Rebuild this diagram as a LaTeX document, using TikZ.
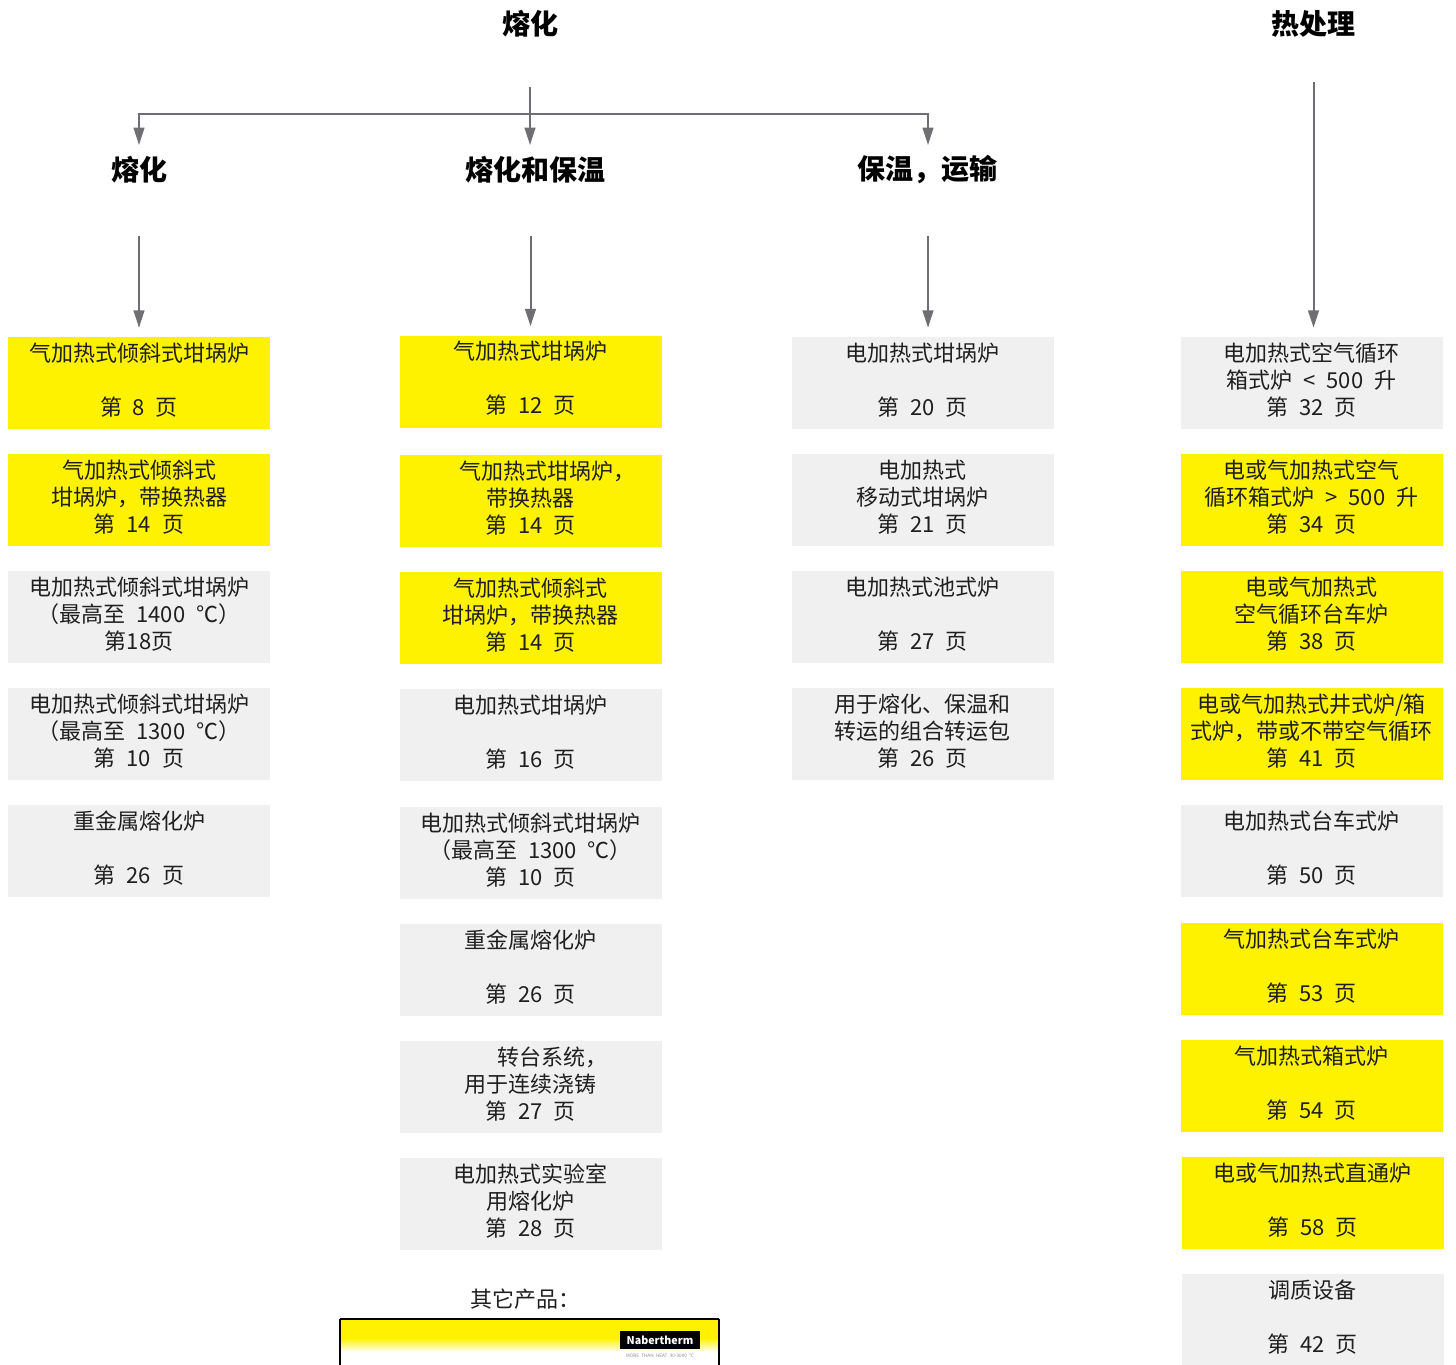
\documentclass[tikz,border=0pt]{standalone}
\usepackage{fontspec}
\usepackage{xcolor}
\usepackage{tikz}
\usetikzlibrary{arrows.meta}
\newfontfamily\cjk[WordSpace=2.2]{Noto Sans CJK SC}
\definecolor{boxyellow}{RGB}{255,242,0}
\definecolor{boxgray}{RGB}{240,240,240}
\definecolor{linkgray}{RGB}{110,110,115}

\begin{document}
\begin{tikzpicture}[x=0.75pt,y=0.75pt,yscale=-1,xscale=1,
  entry/.style={minimum width=196.5pt,minimum height=69pt,inner sep=0pt,align=center,text=black!88,
    font=\cjk\fontsize{16.5}{20.25}\selectfont,execute at end node={\rule[-6pt]{0pt}{6pt}}},
  yel/.style={entry,fill=boxyellow},
  gry/.style={entry,fill=boxgray},
  head/.style={inner sep=0pt,font=\cjk\bfseries\fontsize{21}{26}\selectfont},
  link/.style={draw=linkgray,line width=1.5pt,-{Triangle[width=8pt,length=13pt]}}]
\useasboundingbox (0,0) rectangle (1456,1364);

% headings
\node[head] (m0) at (530,24) {熔化};
\node[head] (h4) at (1313.5,24) {热处理};
\node[head] (h1) at (139,170) {熔化};
\node[head] (h2) at (535,170) {熔化和保温};
\node[head] (h3) at (927,170) {保温，运输};

% column 1
\node[yel] (b11) at (139,383) {气加热式倾斜式坩埚炉\\~\\第 8 页};
\node[yel] (b12) at (139,500) {气加热式倾斜式\\坩埚炉，带换热器\\第 14 页};
\node[gry] (b13) at (139,617) {电加热式倾斜式坩埚炉\\（最高至 1400 ℃）\\第18页};
\node[gry] (b14) at (139,734) {电加热式倾斜式坩埚炉\\（最高至 1300 ℃）\\第 10 页};
\node[gry] (b15) at (139,851) {重金属熔化炉\\~\\第 26 页};

% column 2
\node[yel] (b21) at (530.5,381.5) {气加热式坩埚炉\\~\\第 12 页};
\node[yel] (b22) at (530.5,501) {\hspace*{1.5em}气加热式坩埚炉，\\带换热器\\第 14 页};
\node[yel] (b23) at (530.5,618) {气加热式倾斜式\\坩埚炉，带换热器\\第 14 页};
\node[gry] (b24) at (530.5,735) {电加热式坩埚炉\\~\\第 16 页};
\node[gry] (b25) at (530.5,853) {电加热式倾斜式坩埚炉\\（最高至 1300 ℃）\\第 10 页};
\node[gry] (b26) at (530.5,970) {重金属熔化炉\\~\\第 26 页};
\node[gry] (b27) at (530.5,1087) {\hspace*{2em}转台系统，\\用于连续浇铸\\第 27 页};
\node[gry] (b28) at (530.5,1204) {电加热式实验室\\用熔化炉\\第 28 页};

% column 3
\node[gry] (b31) at (922.5,383) {电加热式坩埚炉\\~\\第 20 页};
\node[gry] (b32) at (922.5,500) {电加热式\\移动式坩埚炉\\第 21 页};
\node[gry] (b33) at (922.5,617) {电加热式池式炉\\~\\第 27 页};
\node[gry] (b34) at (922.5,734) {用于熔化、保温和\\转运的组合转运包\\第 26 页};

% column 4
\node[gry] (b41) at (1311.5,383) {电加热式空气循环\\箱式炉 < 500 升\\第 32 页};
\node[yel] (b42) at (1311.5,500) {电或气加热式空气\\循环箱式炉 > 500 升\\第 34 页};
\node[yel] (b43) at (1311.5,617) {电或气加热式\\空气循环台车炉\\第 38 页};
\node[yel] (b44) at (1311.5,734) {电或气加热式井式炉/箱\\式炉，带或不带空气循环\\第 41 页};
\node[gry] (b45) at (1311.5,851) {电加热式台车式炉\\~\\第 50 页};
\node[yel] (b46) at (1311.5,969) {气加热式台车式炉\\~\\第 53 页};
\node[yel] (b47) at (1311.5,1086) {气加热式箱式炉\\~\\第 54 页};
\node[yel] (b48) at (1312.5,1203) {电或气加热式直通炉\\~\\第 58 页};
\node[gry] (b49) at (1312.5,1320) {调质设备\\~\\第 42 页};

% connectors
\coordinate (split) at (530,114);
\draw[link,shorten <=47.25pt,shorten >=18.75pt] (m0.center) -- (m0.center |- h2.center);
\draw[link,shorten >=18.75pt] (split) -| (h1.center);
\draw[link,shorten >=18.75pt] (split) -| ([xshift=0.75pt]h3.center);
\draw[link,shorten <=49.5pt,shorten >=6.75pt] (h1.center) -- (h1.center |- b11.north);
\draw[link,shorten <=49.5pt,shorten >=6.75pt] (b21.north |- h2.center) -- (b21.north);
\draw[link,shorten <=49.5pt,shorten >=6.75pt] ([xshift=0.75pt]h3.center) -- ([xshift=0.75pt]h3.center |- b31.north);
\draw[link,shorten <=43.5pt,shorten >=6.75pt] (h4.center) -- (h4.center |- b41.north);

% other products
\node[inner sep=0pt,text=black!88,font=\cjk\fontsize{16.5}{20.25}\selectfont] (other) at (525,1299) {其它产品：};
\fill[boxyellow] (340,1319) rectangle (719,1338);
\shade[top color=boxyellow,bottom color=white] (340,1338) rectangle (719,1352);
\draw[black,line width=1pt] (340,1319) -- (719,1319);
\draw[black,line width=1pt] (340,1319) -- (340,1370);
\draw[black,line width=1pt] (719,1319) -- (719,1370);
\node[fill=black,text=white,inner sep=0pt,minimum width=60pt,minimum height=13pt,font=\cjk\bfseries\itshape\fontsize{8}{9}\selectfont] (logo) at (660,1340) {Nabertherm};
\node[inner sep=0pt,text=black!45,font=\cjk\fontsize{3.5}{4}\selectfont] (slogan) at (660,1356) {MORE THAN HEAT 30-3000 °C};
\end{tikzpicture}
\end{document}
